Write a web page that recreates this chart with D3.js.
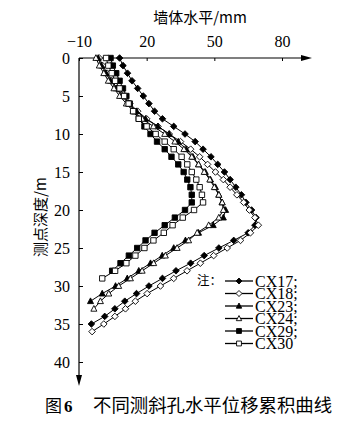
<!DOCTYPE html>
<html><head><meta charset="utf-8">
<script src="https://cdn.jsdelivr.net/npm/d3@7"></script>
<style>
html,body{margin:0;padding:0;background:#fff;}
svg{display:block;}
.num{font-family:"Liberation Serif","Times New Roman",serif;}
.cjk{font-family:"Noto Sans CJK SC","Liberation Serif",serif;}
</style></head>
<body>
<svg id="chart" width="355" height="435"></svg>
<script>
// ---- data ----
const depths = [0,1,2,3,4,5,6,7,8,9,10,11,12,13,14,15,16,17,18,19,20,21,22,23,24,25,26,27,28,29,30,31,32,33,34,35,36];
const cx17 = [8,9.5,11.5,13.5,16,18.5,21,23.5,27,32,37,41.5,45,48.5,51.5,54.5,57,59.5,62,64,66.5,68.5,68,65,58.6,52,45.5,39.5,33,27,21,15.5,10.3,5.9,1.4,-4.5];
const cx18 = [-1,0.5,2.5,4.5,7,9.5,12.5,16,20,25,30,35,39.5,43.5,47,50.5,54,57,60,63,65.5,68,69.5,66,61.6,55.7,49.7,43.8,37.9,32,26.1,20.2,15,10.6,5.9,1,-4.2];
const cx23 = [-1.5,0,2,4,6.5,9,12,15.5,19.5,25,30,34,37.5,40.5,43,46,48.3,50.5,52,53.4,55,54,49.5,43,37.2,32,26.9,21.7,16.5,11.4,6.2,0.3,-4.9];
const cx24 = [-2.5,-1,1,3,5.5,8,11,14,18,23,28,32.5,36.5,40,43,45.5,48,50,52,53.5,54,52,47.5,42.4,38.6,33.5,28.3,23.1,18,12.8,7.6,3.2,-0.5,-3.4];
const cx29 = [4,5,6.5,8,9.5,11,12.5,14.5,16.5,19,21.7,24.6,28,31,34,36.4,38,39.4,40,40,37,32.5,28,23.5,19.5,15.8,12.1,8.4,4.7];
const cx30 = [2,3,4.5,6,8,10,12,14,16.5,20,24,28,32,35.5,38,40,42,43.5,44.5,45,41,36,31.5,27.6,23,19,15,11,6,0.3];
const seriesNames = ["CX17;","CX18;","CX23;","CX24;","CX29;","CX30"];
const seriesValues = [cx17,cx18,cx23,cx24,cx29,cx30];
const markerShapes = ["diamond","diamond","triangle","triangle","square","square"];
const markerFilled = [true,false,true,false,true,false];
const xTicks = [-10,20,50,80];
const yTicks = [0,5,10,15,20,25,30,35,40];
const xTitle = "墙体水平/mm";
const yTitle = "测点深度/m";
const legendNote = "注：";
const captionNum = "图";
const captionBold = "6";
const captionText = "不同测斜孔水平位移累积曲线";

// ---- layout ----
const svg = d3.select("#chart");
const x = d3.scaleLinear().domain([-10, 80]).range([79, 282]);
const y = d3.scaleLinear().domain([0, 40]).range([58, 362]);
const xEnd = 312, yEnd = 386;

// axes
const gx = svg.append("g").attr("transform", `translate(0,${y(0)})`)
  .call(d3.axisTop(x).tickValues(xTicks).tickSizeInner(-3).tickSizeOuter(0).tickPadding(11)
    .tickFormat(d => d < 0 ? "\u2212" + Math.abs(d) : d));
gx.select(".domain").remove();
gx.selectAll("text").attr("class","num").attr("font-size", 16).attr("fill","#000");
gx.selectAll("line").attr("stroke","#000");

const gy = svg.append("g").attr("transform", `translate(${x(-10)},0)`)
  .call(d3.axisLeft(y).tickValues(yTicks).tickSizeInner(-4).tickSizeOuter(0).tickPadding(9));
gy.select(".domain").remove();
gy.selectAll("text").attr("class","num").attr("font-size", 16).attr("fill","#000");
gy.selectAll("line").attr("stroke","#000");

// axis lines with arrows
svg.append("line").attr("x1", x(-10)).attr("x2", xEnd - 6).attr("y1", y(0)).attr("y2", y(0))
  .attr("stroke","#000").attr("stroke-width",1.2);
svg.append("path").attr("d", `M${xEnd},${y(0)} L${xEnd-11},${y(0)-3} L${xEnd-11},${y(0)+3} Z`).attr("fill","#000");
svg.append("line").attr("x1", x(-10)).attr("x2", x(-10)).attr("y1", y(0)).attr("y2", yEnd - 6)
  .attr("stroke","#000").attr("stroke-width",1.2);
svg.append("path").attr("d", `M${x(-10)},${yEnd} L${x(-10)-3},${yEnd-11} L${x(-10)+3},${yEnd-11} Z`).attr("fill","#000");

// titles
svg.append("text").attr("class","cjk").attr("x", 200).attr("y", 23).attr("text-anchor","middle")
  .attr("font-size", 15).text(xTitle);
svg.append("text").attr("class","cjk").attr("transform","translate(46,217) rotate(-90)")
  .attr("text-anchor","middle").attr("font-size", 15).text(yTitle);

// markers
function markerPath(shape, s) {
  if (shape === "diamond") return `M0,${-s} L${s},0 L0,${s} L${-s},0 Z`;
  if (shape === "triangle") return `M0,${-s*1.1} L${s},${s*0.8} L${-s},${s*0.8} Z`;
  return `M${-s*0.9},${-s*0.9} L${s*0.9},${-s*0.9} L${s*0.9},${s*0.9} L${-s*0.9},${s*0.9} Z`;
}
const line = d3.line().x(d => x(d.v)).y(d => y(d.d));

seriesValues.forEach((vals, i) => {
  const pts = vals.map((v, j) => ({d: depths[j], v}));
  const g = svg.append("g");
  g.append("path").datum(pts).attr("d", line).attr("fill","none").attr("stroke","#000").attr("stroke-width",1);
  g.selectAll("path.m").data(pts).enter().append("path").attr("class","m")
    .attr("transform", d => `translate(${x(d.v)},${y(d.d)})`)
    .attr("d", markerPath(markerShapes[i], markerShapes[i] === "diamond" ? 3.3 : 3))
    .attr("fill", markerFilled[i] ? "#000" : "#fff").attr("stroke","#000").attr("stroke-width",0.9);
});

// legend
const legX1 = 225, legX2 = 253, legTextX = 255;
const legY = d3.scalePoint().domain(seriesNames).range([281, 343.5]);
svg.append("text").attr("class","cjk").attr("x", 197).attr("y", 285).attr("font-size", 12.5).text(legendNote);
seriesNames.forEach((name, i) => {
  const yy = legY(name);
  svg.append("line").attr("x1", legX1).attr("x2", legX2).attr("y1", yy).attr("y2", yy).attr("stroke","#000").attr("stroke-width",1.3);
  svg.append("path").attr("transform", `translate(${(legX1+legX2)/2},${yy})`)
    .attr("d", markerPath(markerShapes[i], markerShapes[i] === "diamond" ? 3 : 2.7))
    .attr("fill", markerFilled[i] ? "#000" : "#fff").attr("stroke","#000").attr("stroke-width",0.9);
  svg.append("text").attr("class","num").attr("x", legTextX).attr("y", yy + 5.5).attr("font-size", 16).text(name);
});

// caption
const cap = svg.append("text").attr("x", 45).attr("y", 412).attr("font-size", 17);
cap.append("tspan").attr("class","cjk").text(captionNum);
cap.append("tspan").attr("class","num").attr("font-weight","bold").attr("dx", 2).text(captionBold);
cap.append("tspan").attr("class","cjk").attr("x", 93).attr("font-size", 18.4).text(captionText);
</script>
</body></html>
